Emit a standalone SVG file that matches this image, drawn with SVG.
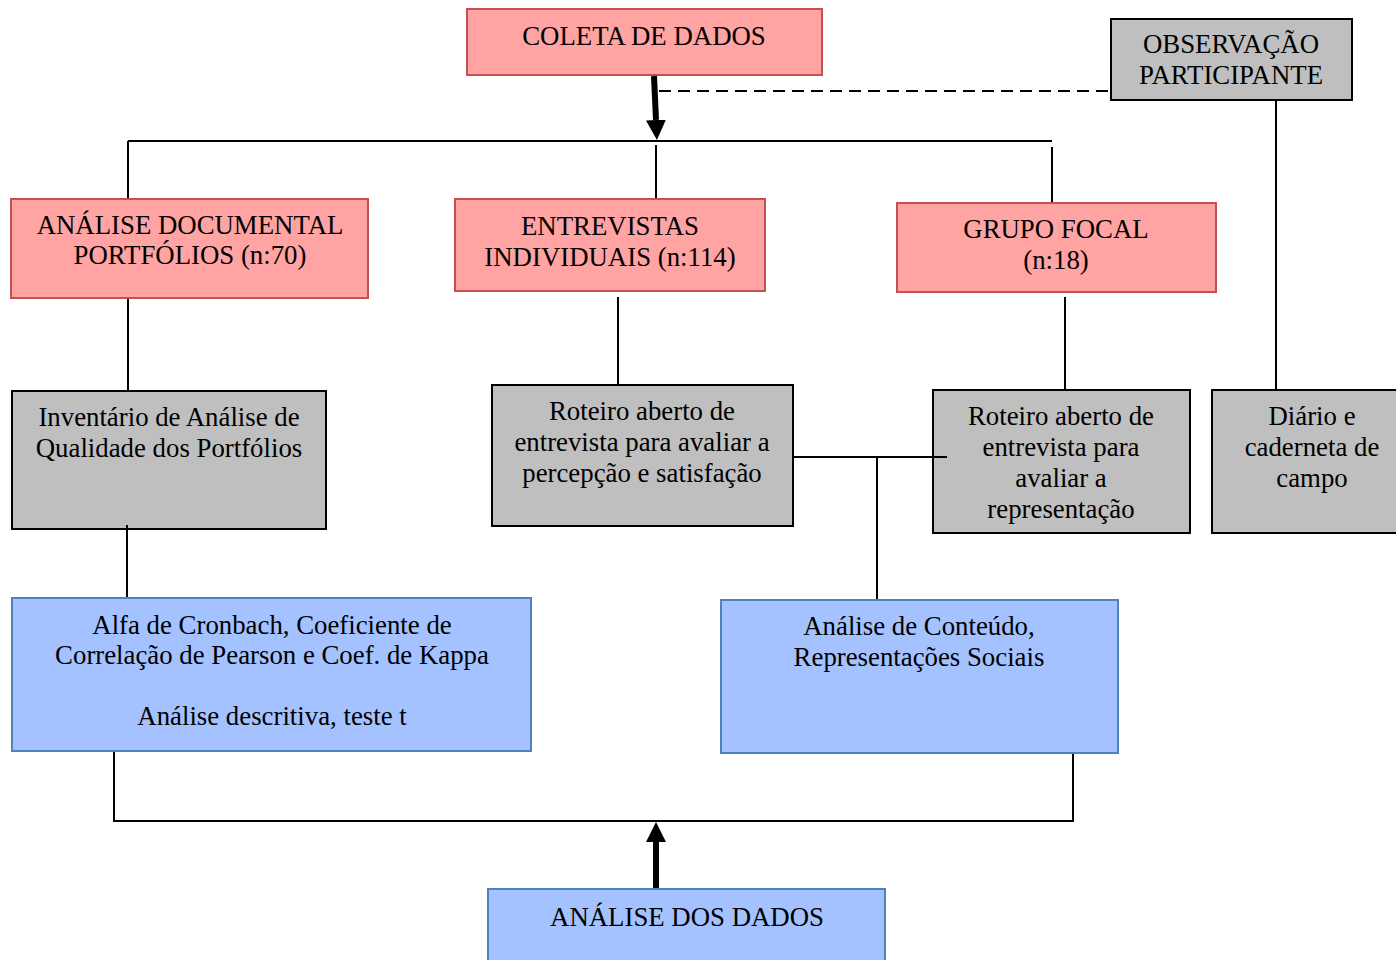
<svg xmlns="http://www.w3.org/2000/svg" width="1396" height="960" viewBox="0 0 1396 960">
<defs>
<style>
.red{fill:#FFA3A3;stroke:#C65050;stroke-width:2}
.grey{fill:#BFBFBF;stroke:#000;stroke-width:2}
.blue{fill:#A4C2FF;stroke:#4F81BD;stroke-width:2}
text{font-family:"Liberation Serif","Times New Roman",serif;font-size:26.8px;fill:#000;text-anchor:middle}
.ln{fill:none;stroke:#000;stroke-width:2}
.dash{fill:none;stroke:#000;stroke-width:2;stroke-dasharray:12,7}
.thick{fill:none;stroke:#000;stroke-width:6}
</style>
<marker id="ah" markerUnits="userSpaceOnUse" markerWidth="20" markerHeight="20" refX="0" refY="10" orient="auto" viewBox="0 0 20 20">
<path d="M0,0 L20,10 L0,20 z" fill="#000"/>
</marker>
</defs>
<rect width="1396" height="960" fill="#fff"/>
<g id="coleta">
<rect class="red" x="467" y="9" width="355" height="66"/>
<text x="644" y="45">COLETA DE DADOS</text>
</g>
<g id="observacao">
<rect class="grey" x="1111" y="19" width="241" height="81"/>
<text x="1231" y="53">OBSERVAÇÃO</text>
<text x="1231" y="84">PARTICIPANTE</text>
</g>
<g id="analise-documental">
<rect class="red" x="11" y="199" width="357" height="99"/>
<text x="190" y="234">ANÁLISE DOCUMENTAL</text>
<text x="190" y="264">PORTFÓLIOS (n:70)</text>
</g>
<g id="entrevistas">
<rect class="red" x="455" y="199" width="310" height="92"/>
<text x="610" y="235">ENTREVISTAS</text>
<text x="610" y="266">INDIVIDUAIS (n:114)</text>
</g>
<g id="grupo-focal">
<rect class="red" x="897" y="203" width="319" height="89"/>
<text x="1056" y="238">GRUPO FOCAL</text>
<text x="1056" y="269">(n:18)</text>
</g>
<g id="inventario">
<rect class="grey" x="12" y="391" width="314" height="138"/>
<text x="169" y="426">Inventário de Análise de</text>
<text x="169" y="457">Qualidade dos Portfólios</text>
</g>
<g id="roteiro1">
<rect class="grey" x="492" y="385" width="301" height="141"/>
<text x="642" y="420">Roteiro aberto de</text>
<text x="642" y="451">entrevista para avaliar a</text>
<text x="642" y="482">percepção e satisfação</text>
</g>
<g id="roteiro2">
<rect class="grey" x="933" y="390" width="257" height="143"/>
<text x="1061" y="425">Roteiro aberto de</text>
<text x="1061" y="456">entrevista para</text>
<text x="1061" y="487">avaliar a</text>
<text x="1061" y="518">representação</text>
</g>
<g id="diario">
<rect class="grey" x="1212" y="390" width="192" height="143"/>
<text x="1312" y="425">Diário e</text>
<text x="1312" y="456">caderneta de</text>
<text x="1312" y="487">campo</text>
</g>
<g id="alfa">
<rect class="blue" x="12" y="598" width="519" height="153"/>
<text x="272" y="634">Alfa de Cronbach, Coeficiente de</text>
<text x="272" y="664">Correlação de Pearson e Coef. de Kappa</text>
<text x="272" y="725">Análise descritiva, teste t</text>
</g>
<g id="conteudo">
<rect class="blue" x="721" y="600" width="397" height="153"/>
<text x="919" y="635">Análise de Conteúdo,</text>
<text x="919" y="666">Representações Sociais</text>
</g>
<g id="analise-dados">
<rect class="blue" x="488" y="889" width="397" height="80"/>
<text x="687" y="926">ANÁLISE DOS DADOS</text>
</g>
<g id="connectors">
<line class="dash" x1="659" y1="91" x2="1112" y2="91"/>
<line class="thick" x1="654" y1="76" x2="656" y2="120" marker-end="url(#ah)"/>
<line class="ln" x1="128" y1="141" x2="1052" y2="141"/>
<line class="ln" x1="128" y1="141" x2="128" y2="198"/>
<line class="ln" x1="656" y1="145" x2="656" y2="198"/>
<line class="ln" x1="1052" y1="147" x2="1052" y2="202"/>
<line class="ln" x1="1276" y1="101" x2="1276" y2="389"/>
<line class="ln" x1="128" y1="299" x2="128" y2="390"/>
<line class="ln" x1="618" y1="297" x2="618" y2="384"/>
<line class="ln" x1="1065" y1="297" x2="1065" y2="389"/>
<line class="ln" x1="792" y1="457" x2="947" y2="457"/>
<line class="ln" x1="877" y1="457" x2="877" y2="599"/>
<line class="ln" x1="127" y1="525" x2="127" y2="597"/>
<polyline class="ln" points="114,752 114,821 1073,821 1073,754"/>
<line class="thick" x1="656" y1="888" x2="656" y2="842" marker-end="url(#ah)"/>
</g>
</svg>
